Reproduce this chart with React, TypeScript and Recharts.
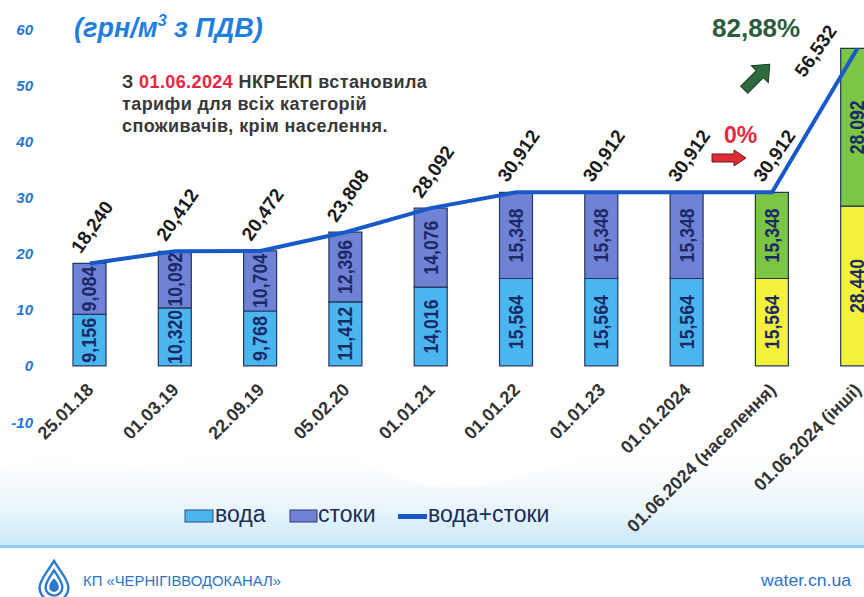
import React from 'react';
import { ComposedChart, Bar, Line, XAxis, YAxis, LabelList, Cell, Legend } from 'recharts';

const categories = ['25.01.18', '01.03.19', '22.09.19', '05.02.20', '01.01.21', '01.01.22', '01.01.23', '01.01.2024', '01.06.2024 (населення)', '01.06.2024 (інші)'];
const water = [9.156, 10.32, 9.768, 11.412, 14.016, 15.564, 15.564, 15.564, 15.564, 28.44];
const sewer = [9.084, 10.092, 10.704, 12.396, 14.076, 15.348, 15.348, 15.348, 15.348, 28.092];
const total = [18.24, 20.412, 20.472, 23.808, 28.092, 30.912, 30.912, 30.912, 30.912, 56.532];
const yTicks = [-10, 0, 10, 20, 30, 40, 50, 60];

const data = categories.map((c, i) => ({ name: c, water: water[i], sewer: sewer[i], total: total[i] }));

const FONT = '"Liberation Sans", Arial, sans-serif';
const fmt = (v: number) => Number(v).toFixed(3).replace('.', ',');

const WATER = '#4ab6ef';
const SEWER = '#7082d6';
const YELLOW = '#f2f23c';
const GREEN = '#7cc545';
const LINE = '#1859c9';

const InBarLabel = (props: any) => {
  const { x, y, width, height, value } = props;
  const cx = Number(x) + Number(width) / 2;
  const cy = Number(y) + Number(height) / 2;
  const s = fmt(value);
  return (
    <text x={cx} y={cy} transform={`rotate(-90 ${cx} ${cy})`} textAnchor="middle" dominantBaseline="central"
      fontFamily={FONT} fontWeight="bold" fontSize={20} fill="#1b2a66"
      textLength={s.length * 9} lengthAdjust="spacingAndGlyphs">
      {s}
    </text>
  );
};

const TotalLabel = (props: any) => {
  const { x, y, value } = props;
  let px = Number(x) - 9;
  let py = Number(y) - 9;
  if (Number(x) > 820) {
    px = Number(x) - 53;
    py = Number(y) + 30;
  }
  return (
    <text x={px} y={py} transform={`rotate(-55 ${px} ${py})`} textAnchor="start"
      fontFamily={FONT} fontWeight="bold" fontSize={19} fill="#1a1a1a">
      {fmt(value)}
    </text>
  );
};

const XTick = (props: any) => {
  const { x, payload } = props;
  const px = Number(x) + 5;
  const py = 391;
  return (
    <text x={px} y={py} transform={`rotate(-45 ${px} ${py})`} textAnchor="end"
      fontFamily={FONT} fontWeight="bold" fontSize={18} fill="#333333">
      {payload.value}
    </text>
  );
};

const YTick = (props: any) => {
  const { y, payload } = props;
  return (
    <text x={33} y={Number(y)} textAnchor="end" dominantBaseline="central"
      fontFamily={FONT} fontWeight="bold" fontStyle="italic" fontSize={15} fill="#1e78d8">
      {payload.value}
    </text>
  );
};

const LegendContent = () => (
  <svg width={380} height={38} style={{ overflow: 'visible' }}>
    <rect x={5} y={15} width={28} height={12} fill={WATER} stroke="#2b4a7a" strokeWidth={1} />
    <text x={35} y={27} fontFamily={FONT} fontSize={23} fill="#1c2b57">вода</text>
    <rect x={110} y={15} width={27} height={12} fill={SEWER} stroke="#2b3a6a" strokeWidth={1} />
    <text x={138} y={27} fontFamily={FONT} fontSize={23} fill="#1c2b57">стоки</text>
    <rect x={218} y={19} width={29} height={5} fill={LINE} />
    <text x={248} y={27} fontFamily={FONT} fontSize={23} fill="#1c2b57">вода+стоки</text>
  </svg>
);

export default function App() {
  return (
    <div style={{ position: 'absolute', left: 0, top: 0, width: 864, height: 597, overflow: 'hidden', background: '#ffffff' }}>
      <svg width={864} height={597} style={{ position: 'absolute', left: 0, top: 0 }}>
        <defs>
          <linearGradient id="sea" x1="0" y1="0" x2="0" y2="1">
            <stop offset="0" stopColor="#ffffff" stopOpacity={0} />
            <stop offset="1" stopColor="#c4e5f6" stopOpacity={0.9} />
          </linearGradient>
        </defs>
        <path d="M0 470 C 60 440, 120 480, 180 460 S 300 430, 380 470 S 520 470, 600 455 S 760 430, 864 460 L 864 545 L 0 545 Z" fill="url(#sea)" />
        <rect x={0} y={545} width={864} height={3} fill="#8dcdf1" />
      </svg>
      <div style={{ position: 'absolute', left: 0, top: 0 }}>
        <ComposedChart width={900} height={597} data={data} margin={{ top: 29, right: 0, bottom: 0, left: 0 }} barSize={33}>
          <XAxis dataKey="name" height={175} axisLine={false} tickLine={false} tick={<XTick />} interval={0} />
          <YAxis width={47} domain={[-10, 60]} ticks={yTicks} axisLine={false} tickLine={false} tick={<YTick />} allowDataOverflow />
          <Legend layout="horizontal" verticalAlign="middle" align="center" content={<LegendContent />}
            wrapperStyle={{ top: 495, left: 180, width: 380, height: 38 }} />
          <Bar dataKey="water" stackId="a" name="вода" fill={WATER} stroke="#24365c" strokeWidth={1.2} isAnimationActive={false}>
            {data.map((d, i) => <Cell key={i} fill={i >= 8 ? YELLOW : WATER} />)}
            <LabelList dataKey="water" content={<InBarLabel />} />
          </Bar>
          <Bar dataKey="sewer" stackId="a" name="стоки" fill={SEWER} stroke="#24365c" strokeWidth={1.2} isAnimationActive={false}>
            {data.map((d, i) => <Cell key={i} fill={i >= 8 ? GREEN : SEWER} />)}
            <LabelList dataKey="sewer" content={<InBarLabel />} />
          </Bar>
          <Line dataKey="total" name="вода+стоки" type="linear" stroke={LINE} strokeWidth={4} dot={false} isAnimationActive={false}>
            <LabelList dataKey="total" content={<TotalLabel />} />
          </Line>
        </ComposedChart>
      </div>
      <svg width={864} height={597} style={{ position: 'absolute', left: 0, top: 0, pointerEvents: 'none' }}>
        <text x={74} y={37} fontFamily={FONT} fontWeight="bold" fontStyle="italic" fontSize={27} fill="#1f7fe0">
          (грн/м<tspan fontSize={16} dy={-11}>3</tspan><tspan dy={11}> з ПДВ)</tspan>
        </text>
        <g fontFamily={FONT} fontWeight="bold" fontSize={18} fill="#383838" letterSpacing={0.4}>
          <text x={122} y={88}>З <tspan fill="#ec2440">01.06.2024</tspan> НКРЕКП встановила</text>
          <text x={122} y={110}>тарифи для всіх категорій</text>
          <text x={122} y={132}>споживачів, крім населення.</text>
        </g>
        <text x={712} y={37} fontFamily={FONT} fontWeight="bold" fontSize={26} fill="#2d5b3b">82,88%</text>
        <g transform="translate(757 77) rotate(-45)">
          <polygon points="-18,-5 4,-5 4,-12 18,0 4,12 4,5 -18,5" fill="#2d6a3f" stroke="#1e3d26" strokeWidth={1} />
        </g>
        <text x={724} y={143} fontFamily={FONT} fontWeight="bold" fontSize={23} fill="#e8283c">0%</text>
        <polygon points="712,154 734,154 734,150 746,158 734,166 734,162 712,162" fill="#e02a36" stroke="#6a1a1a" strokeWidth={1} />
        <g transform="translate(54 580) scale(1.2)" fill="none" stroke="#2a7bd0" strokeWidth={2}>
          <path d="M0 -16 C 6 -6, 12 0, 12 6 A 12 12 0 0 1 -12 6 C -12 0, -6 -6, 0 -16 Z" fill="#ffffff" />
          <path d="M0 -8 C 4 -2, 7 2, 7 6 A 7 7 0 0 1 -7 6 C -7 2, -4 -2, 0 -8 Z" />
          <path d="M0 0 C 2 2, 3 4, 3 6 A 3 3 0 0 1 -3 6 C -3 4, -2 2, 0 0 Z" fill="#2a7bd0" />
        </g>
        <text x={83} y={586} fontFamily={FONT} fontSize={15} fill="#2a73c8" textLength={198} lengthAdjust="spacingAndGlyphs">КП «ЧЕРНІГІВВОДОКАНАЛ»</text>
        <text x={761} y={586} fontFamily={FONT} fontSize={17} fill="#2a73c8" textLength={90} lengthAdjust="spacingAndGlyphs">water.cn.ua</text>
      </svg>
    </div>
  );
}
